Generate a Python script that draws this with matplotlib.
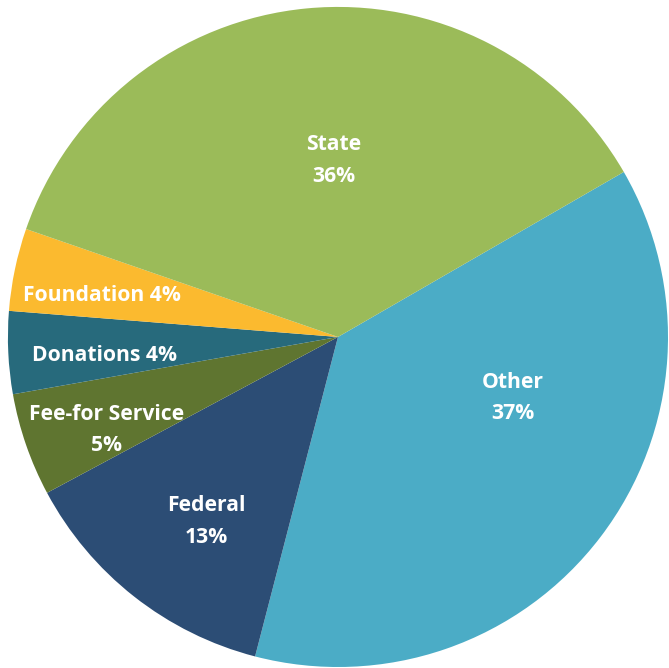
import matplotlib
matplotlib.use("Agg")
import matplotlib.pyplot as plt

# Доли бюджета по источникам (в процентах)
sources = ["Other", "Federal", "Fee-for Service", "Donations", "Foundation", "State"]
shares = [37, 13, 5, 4, 4, 36]
colors = ["#4BACC6", "#2C4D75", "#5F7530", "#276A7C", "#FBBA2F", "#9BBB59"]

# Подписи и их положение (в координатах круга радиуса 1)
label_texts = ["Other\n37%", "Federal\n13%", "Fee-for Service\n5%",
               "Donations 4%", "Foundation 4%", "State\n36%"]
label_pos = [(0.530, -0.185), (-0.40, -0.558), (-0.70, -0.282),
             (-0.706, -0.055), (-0.715, 0.127), (-0.012, 0.535)]

fig = plt.figure(figsize=(6.69, 6.68), dpi=100)
ax = fig.add_axes([0, 0, 1, 1])

wedges, _ = ax.pie(shares, colors=colors, startangle=30, counterclock=False,
                   radius=1.0, center=(0, 0),
                   wedgeprops=dict(linewidth=0.3, edgecolor="none"))

for txt, (x, y) in zip(label_texts, label_pos):
    ax.text(x, y, txt, ha="center", va="center", color="white",
            fontsize=15.2, fontweight="bold", family="Open Sans",
            linespacing=1.68)

# Круг чуть обрезан по краям, как на исходной картинке
ax.set_xlim(-1.024, 1.003)
ax.set_ylim(-1.003, 1.021)
ax.set_aspect("auto")
ax.axis("off")

plt.savefig("out.png", dpi=100)
plt.close()
